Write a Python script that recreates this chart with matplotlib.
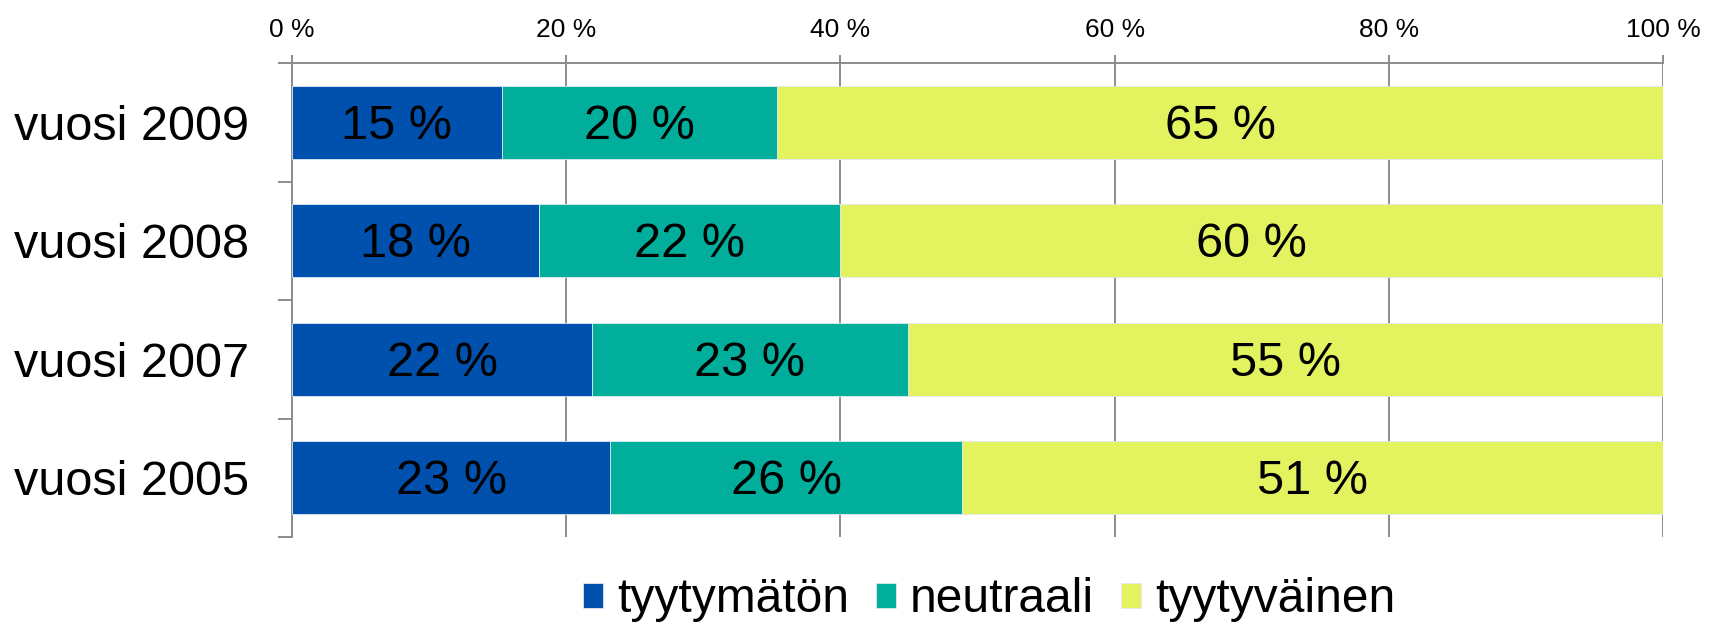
import numpy as np
import matplotlib
matplotlib.use('Agg')
import matplotlib.pyplot as plt
from matplotlib import ticker

plt.rcParams['font.family'] = ['Liberation Sans', 'DejaVu Sans']

years = ['vuosi 2009', 'vuosi 2008', 'vuosi 2007', 'vuosi 2005']
series = ['tyytymätön', 'neutraali', 'tyytyväinen']
tyytymaton = [15.3, 18.0, 21.9, 23.2]
neutraali = [20.1, 22.0, 23.0, 25.7]
tyytyvainen = [64.6, 60.0, 55.1, 51.1]
labels = [['15 %', '18 %', '22 %', '23 %'],
          ['20 %', '22 %', '23 %', '26 %'],
          ['65 %', '60 %', '55 %', '51 %']]
colors = ['#0050ae', '#00ae9b', '#e3f25f']

fig = plt.figure(figsize=(17.13, 6.27), dpi=100)
ax = fig.add_axes([292 / 1713, 1 - 537 / 627, 1371 / 1713, 474 / 627])

y = np.arange(len(years))
left = np.zeros(len(years))
for vals, lab, col, name in zip([tyytymaton, neutraali, tyytyvainen], labels, colors, series):
    bars = ax.barh(y, vals, left=left, height=0.615, color=col,
                   edgecolor='#dfe8f0', linewidth=0.6, label=name, zorder=3)
    txts = ax.bar_label(bars, labels=lab, label_type='center', fontsize=35, color='black')
    # excel sits the labels a bit lower
    for t in txts:
        t.set_y(-3)
    left += np.array(vals)

ax.set_xlim(0, 100)
ax.set_ylim(len(years) - 0.5, -0.5)

ax.xaxis.set_ticks(np.arange(0, 101, 20))
ax.xaxis.set_major_formatter(ticker.FuncFormatter(lambda v, p: '%d %%' % v))
ax.xaxis.tick_top()
ax.tick_params(axis='x', which='major', length=6, width=1.4, color='#8c8c8c',
               labelsize=19, pad=9)
ax.grid(axis='x', color='#8c8c8c', linewidth=1.4, zorder=0)

ax.set_yticks(y)
ax.set_yticklabels(years)
ax.set_yticks(np.arange(-0.5, len(years)), minor=True)
ax.tick_params(axis='y', which='major', length=0, labelsize=35, pad=31)
ax.tick_params(axis='y', which='minor', length=10, width=1.4, color='#8c8c8c')

for s in ['right', 'bottom']:
    ax.spines[s].set_visible(False)
for s in ['top', 'left']:
    ax.spines[s].set_color('#8c8c8c')
    ax.spines[s].set_linewidth(1.4)

fig.legend(loc='center', bbox_to_anchor=(989 / 1713, 1 - 600 / 627), ncol=3,
           frameon=False, fontsize=34.5, handlelength=0.42, handleheight=0.42,
           handletextpad=0.3, columnspacing=0.55, borderaxespad=0)

fig.savefig('out.png', dpi=100)
